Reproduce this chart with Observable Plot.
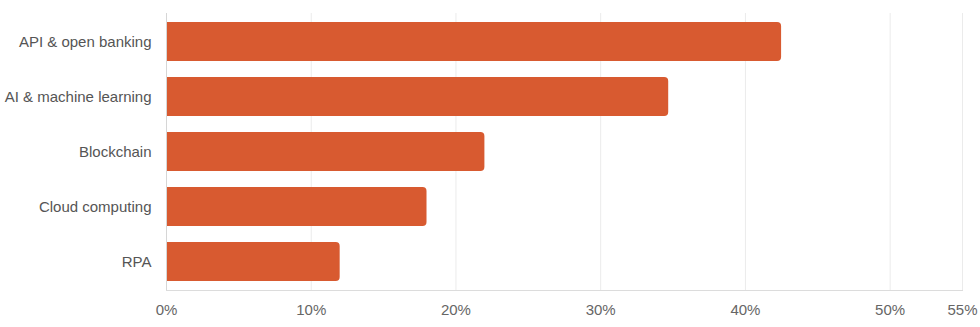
<!DOCTYPE html>
<html>
<head>
<meta charset="utf-8">
<script src="https://cdn.jsdelivr.net/npm/d3@7"></script>
<script src="https://cdn.jsdelivr.net/npm/@observablehq/plot@0.6"></script>
<style>
  html, body { margin: 0; padding: 0; background: #fff; }
  #chart svg { display: block; }
</style>
</head>
<body>
<div id="chart"></div>
<script>
const categories = ["API & open banking", "AI & machine learning", "Blockchain", "Cloud computing", "RPA"];
const values = [42.5, 34.7, 22, 18, 12];
const xTicks = [0, 10, 20, 30, 40, 50, 55];

const data = categories.map((c, i) => ({category: c, value: values[i]}));

const chart = Plot.plot({
  width: 980,
  height: 327,
  marginLeft: 166,
  marginRight: 18,
  marginTop: 13,
  marginBottom: 37,
  style: {fontFamily: "'Liberation Sans', Arial, sans-serif", fontSize: "15px", color: "#666", background: "#fff"},
  x: {domain: [0, 55], ticks: xTicks, tickFormat: d => d + "%", label: null},
  y: {domain: categories, paddingInner: 0.285, paddingOuter: 0.14, label: null},
  marks: [
    Plot.gridX(xTicks.filter(t => t > 0), {stroke: "#ebebeb", strokeOpacity: 1}),
    Plot.frame({anchor: "bottom", stroke: "#dcdcdc"}),
    Plot.barX(data, {x: "value", y: "category", fill: "#D85A30", rx2: 4}),
    Plot.ruleX([0], {stroke: "#d6d6d6"}),
    Plot.axisX({ticks: xTicks, tickFormat: d => d + "%", tickSize: 0, tickPadding: 14, fill: "#666", fontSize: 15, label: null}),
    Plot.axisY({tickSize: 0, tickPadding: 15, fill: "#555", fontSize: 15, label: null})
  ]
});
document.getElementById("chart").appendChild(chart);
</script>
</body>
</html>
